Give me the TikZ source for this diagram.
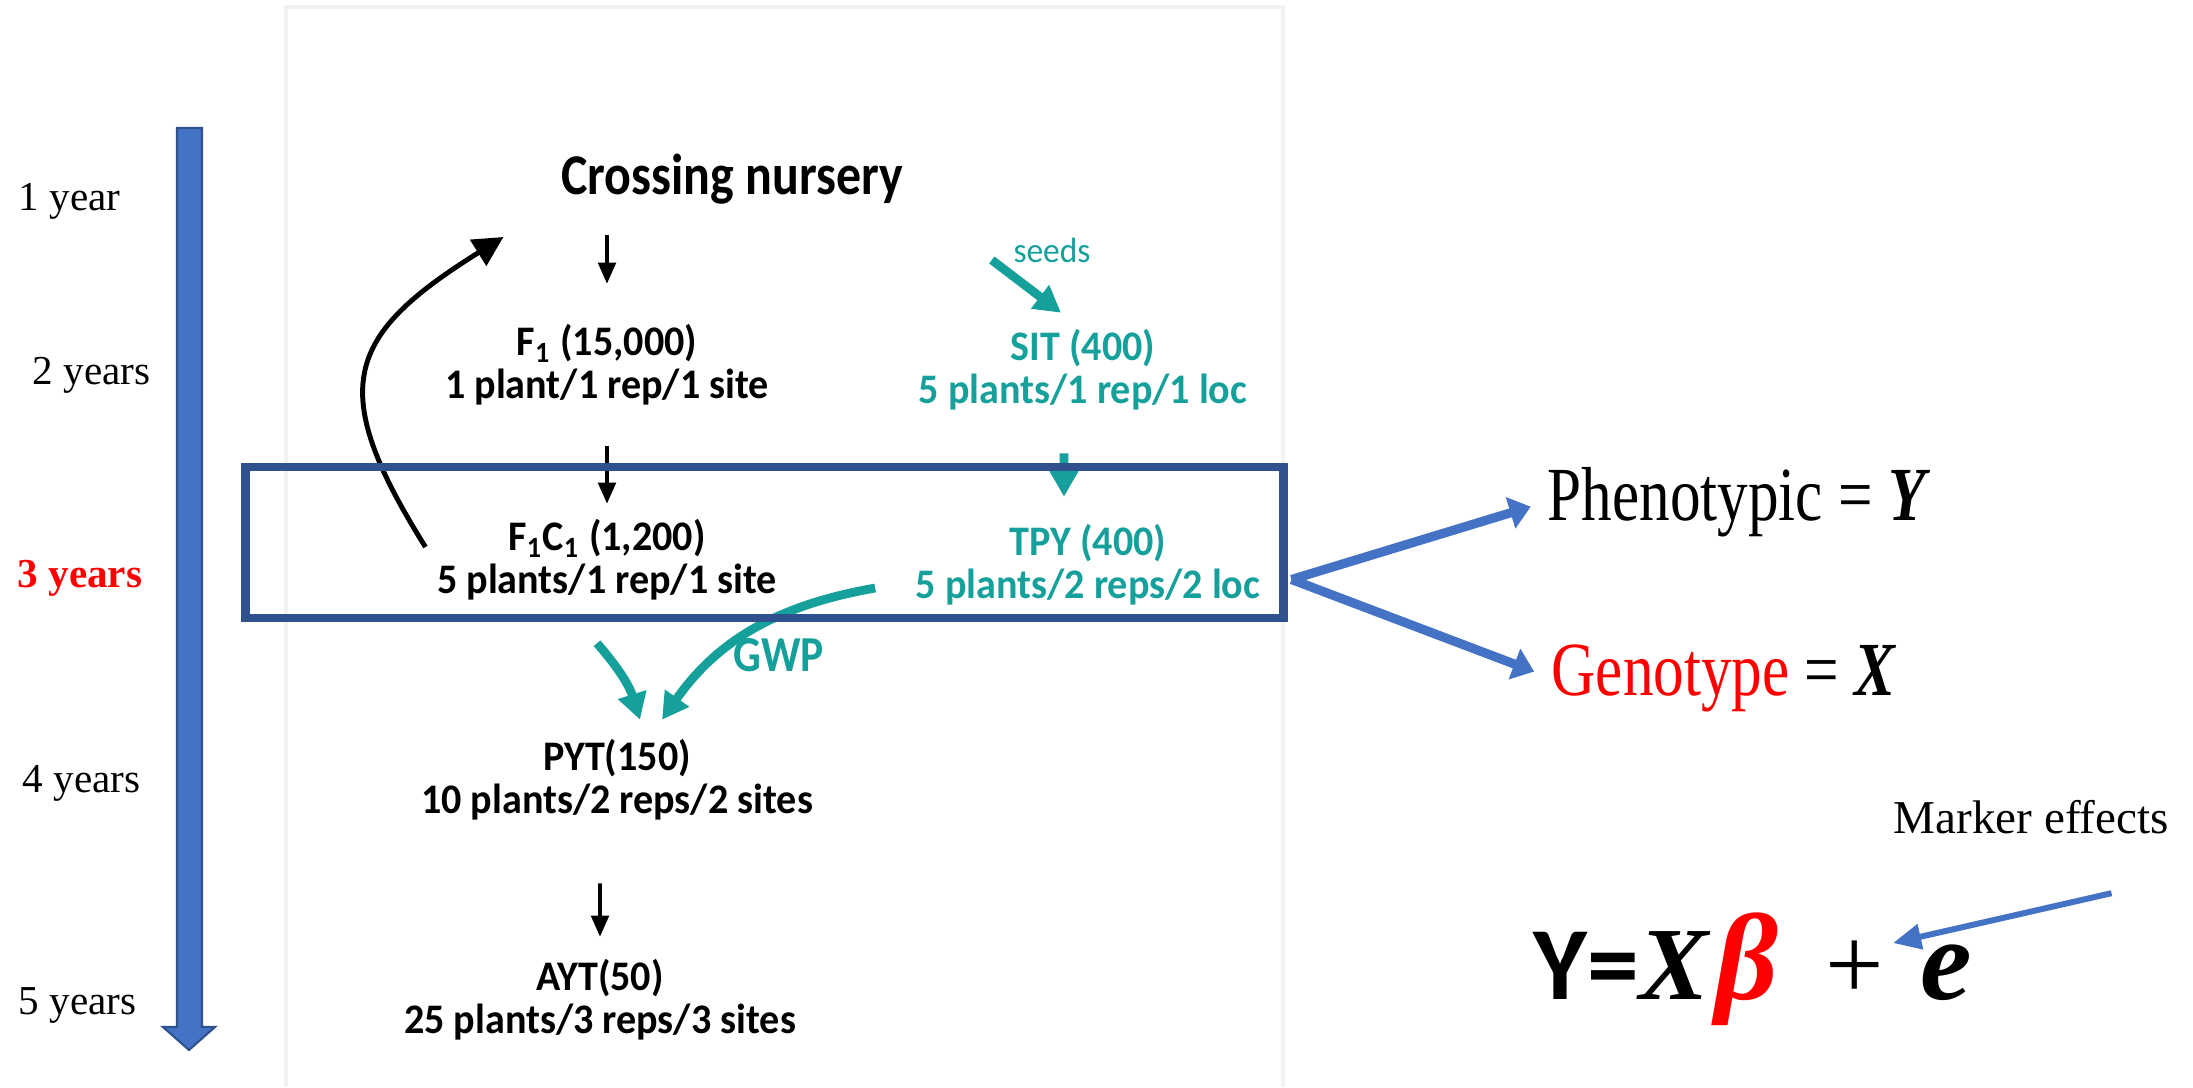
\documentclass[tikz,border=0pt]{standalone}
\usepackage{xcolor}
\usepackage{amsmath}
\usepackage{fix-cm}
\usepackage{fontspec}
\setmainfont{Liberation Serif}
\newfontfamily\calibri{Carlito}
\usepackage{tikz}
\usetikzlibrary{arrows.meta, positioning, calc}
\definecolor{stteal}{RGB}{22,160,155}
\definecolor{starrow}{RGB}{68,114,196}
\definecolor{stdark}{RGB}{47,82,143}
\definecolor{stframe}{RGB}{242,242,238}

\begin{document}
\begin{tikzpicture}[x=0.01cm, y=0.01cm,
  stage/.style={align=center, inner sep=0pt, yscale=1.05, font=\calibri\bfseries\fontsize{11.4}{11.7}\selectfont},
  tstage/.style={stage, text=stteal},
  yearlbl/.style={anchor=west, inner sep=0pt, font=\fontsize{11.7}{14}\selectfont},
  big/.style={anchor=base west, inner sep=0pt, yscale=1.25, font=\fontsize{17.4}{20}\selectfont},
  arr/.style={-{Triangle[length=6pt,width=5pt]}, line width=1pt},
  tarr/.style={-{Triangle[length=7.5pt,width=8pt]}, line width=2.5pt, stteal},
  blockarr/.style={-{Triangle[length=6pt,width=9pt]}, line width=2.6pt, starrow},
  selbox/.style={draw=stdark, line width=2.4pt, minimum width=10.37cm, minimum height=1.51cm, inner sep=0pt}
]
\useasboundingbox (0,0) rectangle (2193,-1087);
% frame of the breeding scheme
\draw[stframe, line width=1pt] (286,-1087) |- (1283,-7) -- (1283,-1087);

% time line
\filldraw[fill=starrow, draw=stdark, line width=0.6pt] (177,-128) -- (202,-128) -- (202,-1027) -- (215,-1027)
  -- (189,-1050) -- (163,-1027) -- (177,-1027) -- cycle;
\node[yearlbl] (yr1) at (18,-201) {1 year};
\node[yearlbl] (yr2) at (32,-375) {2 years};
\node[yearlbl, text=red, font=\bfseries\fontsize{11.7}{14}\selectfont] (yr3) at (17,-578) {3 years};
\node[yearlbl] (yr4) at (22,-783) {4 years};
\node[yearlbl] (yr5) at (18,-1005) {5 years};

% stages
\node[stage, yscale=1.1, font=\calibri\bfseries\fontsize{14.2}{16}\selectfont] (cross) at (732,-179) {Crossing nursery};
\node[stage] (f1) at (607,-365) {F\textsubscript{1} (15,000)\\1 plant/1 rep/1 site};
\node[tstage] (sit) at (1083,-370) {SIT (400)\\5 plants/1 rep/1 loc};
\node[stage] (f1c1) at (607,-560) {F\textsubscript{1}C\textsubscript{1} (1,200)\\5 plants/1 rep/1 site};
\node[tstage] (tpy) at (1088,-565) {TPY (400)\\5 plants/2 reps/2 loc};
\node[stage] (pyt) at (617,-780) {PYT(150)\\10 plants/2 reps/2 sites};
\node[stage] (ayt) at (600,-1000) {AYT(50)\\25 plants/3 reps/3 sites};
\node[tstage, font=\calibri\fontsize{9.5}{11}\selectfont] (seeds) at (1052,-250) {seeds};
\node[tstage, yscale=1.1, font=\calibri\bfseries\fontsize{12.4}{13}\selectfont] (gwp) at (779,-655) {GWP};

\draw[arr, shorten <=0.3cm, shorten >=0.4cm] (cross.south -| f1.north) -- (f1.north);
\draw[arr, shorten <=0.4cm, shorten >=0.15cm] (f1.south) -- (f1c1.north);
\draw[arr, shorten <=0.62cm, shorten >=0.22cm] ([xshift=-0.17cm]pyt.south) -- (ayt.north);
\draw[-{Triangle[length=8.5pt,width=8.5pt]}, line width=1.4pt] ([shift={(-11,13)}]f1c1.west)
  to[out=122, in=212, looseness=1.5] ([shift={(-57,-58)}]cross.west);
\draw[tarr] ([shift={(-21,-10)}]seeds.west) -- ([shift={(-22,16)}]sit.north);
\draw[tarr, shorten <=0.42cm, shorten >=0.27cm] ([xshift=-0.19cm]sit.south) -- ([xshift=-0.24cm]tpy.north);
\draw[tarr] ([shift={(-10,-42)}]f1c1.south) to[bend left=12] ([shift={(23,19)}]pyt.north);
\draw[tarr] ([shift={(-40,-23)}]tpy.west) to[out=190, in=55] ([shift={(45,19)}]pyt.north);

% selected year
\node[selbox] (sel) at (764.5,-542.5) {};

% model
\node[big] (pheno) at (1547,-520) {Phenotypic = \textbf{\textit{Y}}};
\node[big] (geno) at (1551,-695) {\textcolor{red}{Genotype} = \textbf{\textit{X}}};
\coordinate (split) at ([shift={(4,-37)}]sel.east);
\draw[blockarr, shorten >=0.17cm] (split) -- (pheno.west);
\draw[blockarr, shorten >=0.18cm] (split) -- (geno.west);

\node[anchor=base west, inner sep=0pt, font=\fontsize{29.5}{32}\selectfont] (eq) at (1533,-999)
  {{\calibri\bfseries Y=}\textbf{\textit{X}}\kern0.05em\textcolor{red}{\fontsize{35}{36}\selectfont\textbf{\textit{β}}}\kern0.45em+\kern0.35em{\fontsize{33}{36}\selectfont\textbf{\textit{e}}}};
\node[anchor=base west, inner sep=0pt, font=\fontsize{13.4}{15}\selectfont] (marker) at (1893,-833) {Marker effects};
\draw[-{Triangle[length=8pt,width=7pt]}, line width=1.7pt, starrow] ([shift={(-58,-59)}]marker.south east)
  -- ([shift={(360,56)}]eq.base west);
\end{tikzpicture}
\end{document}
